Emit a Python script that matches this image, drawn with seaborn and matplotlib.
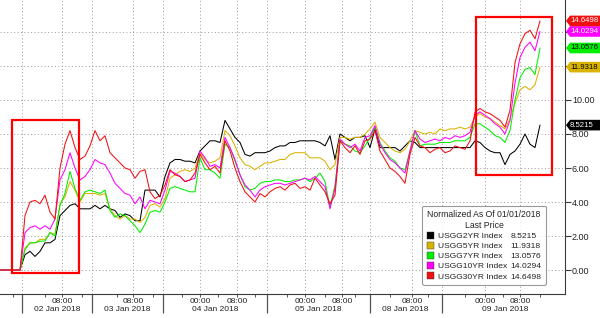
import numpy as np
import pandas as pd
import matplotlib
matplotlib.use("Agg")
import matplotlib.pyplot as plt
import seaborn as sns
from matplotlib.patches import Polygon, Patch, Rectangle
from matplotlib.transforms import IdentityTransform

# ---------------- data ----------------
# sample positions along the compressed (trading-session) time axis
sample_pos = list(range(0, 545, 5))

usgg2 = [0, 0, 0, 0, 0, 0.9, 1.1, 0.8, 1.1, 1.6,
         1.6, 1.8, 3.2, 3.5, 3.8, 3.9, 3.6, 3.6, 3.6, 3.8,
         3.6, 3.8, 3.6, 3.5, 3.1, 3.3, 3.2, 2.9, 2.9, 4.7,
         4.7, 4.7, 4.3, 5.5, 6.3, 6.5, 6.5, 6.4, 6.4, 6.3,
         7.0, 7.3, 7.6, 7.6, 7.5, 8.8, 8.3, 7.8, 7.5, 6.8,
         6.7, 6.9, 6.9, 6.9, 7.0, 7.2, 7.3, 7.3, 7.5, 7.5,
         7.6, 7.6, 7.6, 7.6, 7.5, 7.3, 7.9, 6.5, 8.0, 7.8,
         7.6, 7.8, 7.8, 7.9, 7.2, 8.3, 7.2, 7.2, 7.2, 7.2,
         7.0, 7.3, 7.6, 7.5, 7.2, 7.2, 7.2, 7.2, 7.2, 7.2,
         7.2, 7.2, 7.2, 7.2, 7.2, 7.6, 7.5, 7.2, 7.0, 6.9,
         6.9, 6.2, 6.8, 7.0, 7.4, 8.0, 7.4, 7.2, 8.5215]

usgg5 = [0, 0, 0, 0, 0, 1.3, 1.6, 1.6, 1.8, 1.8,
         2.2, 2.1, 3.9, 4.3, 5.2, 4.7, 4.0, 4.5, 4.5, 4.5,
         4.4, 4.5, 3.6, 3.2, 3.0, 3.2, 3.0, 3.0, 2.8, 3.1,
         3.8, 3.9, 3.7, 4.2, 5.4, 5.6, 5.8, 5.9, 5.8, 6.0,
         6.9, 6.5, 6.3, 6.4, 6.6, 8.2, 7.9, 7.3, 6.6, 6.2,
         6.1, 5.9, 6.1, 6.3, 6.3, 6.4, 6.5, 6.5, 6.8, 6.9,
         6.9, 6.9, 6.6, 6.6, 6.6, 6.4, 5.9, 6.2, 7.8, 7.8,
         7.7, 7.8, 7.8, 8.0, 8.3, 8.7, 7.8, 7.5, 7.2, 7.0,
         6.9, 7.1, 7.6, 8.2, 8.1, 8.0, 8.1, 8.0, 8.3, 8.2,
         8.3, 8.3, 8.4, 8.3, 8.4, 9.0, 9.2, 9.0, 8.9, 8.7,
         8.5, 8.3, 8.9, 9.8, 10.6, 10.8, 10.6, 10.9, 11.9318]

usgg7 = [0, 0, 0, 0, 0, 1.2, 1.6, 1.6, 1.7, 1.7,
         2.2, 2.0, 3.8, 4.5, 5.8, 4.8, 4.1, 4.6, 4.7, 4.6,
         4.5, 4.7, 3.5, 3.1, 3.3, 3.2, 2.9, 2.6, 2.2, 2.7,
         3.4, 3.5, 3.4, 4.0, 4.8, 4.9, 4.8, 4.7, 4.6, 4.6,
         6.6, 5.9, 5.9, 5.7, 5.4, 7.4, 7.2, 6.4, 5.6, 4.9,
         4.7, 4.8, 5.1, 5.2, 5.2, 5.3, 5.3, 5.2, 5.2, 5.3,
         5.3, 5.4, 5.2, 5.4, 5.7, 5.2, 3.7, 5.0, 7.6, 7.4,
         7.3, 7.0, 6.9, 7.3, 7.8, 8.4, 7.5, 7.0, 6.6, 6.4,
         6.0, 5.9, 7.0, 8.2, 7.3, 7.4, 7.4, 7.4, 7.5, 7.5,
         7.5, 7.6, 7.6, 7.6, 7.8, 8.6, 8.6, 8.4, 8.2, 7.9,
         7.8, 7.5, 8.2, 10.0, 11.3, 11.8, 11.9, 11.5, 13.0576]

usgg10 = [0, 0, 0, 0, 0, 2.2, 2.5, 2.6, 2.4, 2.6,
          2.4, 3.0, 5.3, 5.9, 6.9, 6.0, 5.3, 5.5, 5.9, 6.5,
          6.3, 6.2, 5.7, 5.1, 4.8, 4.5, 4.4, 3.9, 4.3, 3.6,
          4.1, 4.0, 3.9, 4.7, 5.8, 5.7, 5.5, 5.2, 5.3, 5.4,
          7.0, 6.6, 6.1, 6.2, 6.0, 7.8, 7.2, 6.5, 5.6, 5.0,
          4.7, 4.3, 4.7, 4.9, 5.0, 5.1, 5.1, 5.0, 5.1, 5.2,
          5.3, 5.4, 5.3, 5.5, 5.2, 4.9, 3.6, 4.8, 7.7, 7.4,
          7.2, 7.4, 7.0, 7.8, 7.9, 8.5, 7.4, 6.9, 6.5, 6.3,
          6.0, 5.7, 7.0, 8.2, 7.7, 7.5, 7.6, 7.7, 7.6, 7.8,
          7.7, 7.9, 7.8, 7.9, 8.1, 9.1, 9.3, 9.1, 8.9, 8.6,
          8.4, 8.0, 8.8, 11.0, 12.5, 13.1, 13.4, 12.9, 14.0294]

usgg30 = [0, 0, 0, 0, 0, 3.2, 4.0, 4.1, 3.9, 4.4,
          3.4, 3.0, 6.0, 7.4, 8.2, 7.2, 6.5, 6.7, 7.3, 8.2,
          7.6, 7.9, 6.9, 6.6, 6.3, 6.0, 5.9, 5.4, 5.8, 5.9,
          4.6, 4.2, 4.4, 5.0, 5.9, 5.6, 5.5, 5.2, 5.3, 5.7,
          6.8, 6.3, 5.9, 6.1, 5.7, 7.6, 7.0, 6.0, 5.2, 4.6,
          4.3, 4.0, 4.5, 4.3, 4.6, 4.8, 4.9, 4.7, 5.0, 5.1,
          4.8, 4.9, 4.7, 5.4, 5.0, 4.6, 3.9, 4.4, 7.6, 7.2,
          6.9, 7.3, 6.8, 7.6, 7.7, 8.2, 7.0, 6.5, 6.0, 5.8,
          5.5, 5.1, 6.8, 7.8, 7.3, 7.2, 6.9, 7.1, 7.2, 6.9,
          7.0, 7.3, 7.2, 7.1, 7.6, 9.3, 9.5, 9.3, 9.2, 9.0,
          8.8, 8.4, 9.4, 12.2, 13.3, 13.9, 14.1, 13.6, 14.6498]

series_names = ["USGG2YR Index", "USGG5YR Index", "USGG7YR Index",
                "USGG10YR Index", "USGG30YR Index"]
last_prices = ["8.5215", "11.9318", "13.0576", "14.0294", "14.6498"]
series_colors = ["#000000", "#D9B300", "#00EE00", "#FF00FF", "#F01010"]
tag_text_colors = ["white", "black", "black", "white", "white"]

# x-axis time ticks
day_bounds = [22, 92, 163, 267, 370, 442]
hour_ticks = [62, 133, 200, 237, 305, 342, 412, 485, 520]
hour_labels = ["08:00", "08:00", "00:00", "08:00", "00:00", "08:00",
               "08:00", "00:00", "08:00"]
small_ticks = [13, 45, 82, 117, 153, 182, 218, 255, 287, 325, 355, 390,
               428, 465, 503, 540]
day_centers = [57, 127, 215, 318, 405, 505]
day_labels = ["02 Jan 2018", "03 Jan 2018", "04 Jan 2018",
              "05 Jan 2018", "08 Jan 2018", "09 Jan 2018"]

y_ticks = [0, 2, 4, 6, 8, 10, 12, 14]

# highlight boxes: (x0, x1, y0, y1)
highlight_boxes = [(12, 79, -0.18, 8.8), (476, 552, 5.6, 14.9)]

# ---------------- build frame ----------------
all_vals = [usgg2, usgg5, usgg7, usgg10, usgg30]
df = pd.concat([pd.DataFrame({"pos": sample_pos, "value": v, "series": n})
                for n, v in zip(series_names, all_vals)], ignore_index=True)

sns.set_theme(style="white")
plt.rcParams["font.family"] = ["Liberation Sans", "DejaVu Sans"]

fig = plt.figure(figsize=(6.0, 3.18), dpi=100)
ax = fig.add_axes([0, 24 / 318, 565 / 600, 294 / 318])

sns.lineplot(data=df, x="pos", y="value", hue="series", hue_order=series_names,
             palette=series_colors, legend=False, linewidth=0.75, ax=ax,
             estimator=None, sort=False)

ax.set_xlim(0, 565)
ax.set_ylim(-1.41, 15.88)
ax.set_xlabel("")
ax.set_ylabel("")

# spines
for s in ["left", "top"]:
    ax.spines[s].set_visible(False)
for s in ["right", "bottom"]:
    ax.spines[s].set_visible(True)
    ax.spines[s].set_color("#3a3a3a")
    ax.spines[s].set_linewidth(0.8)

# y axis on the right
ax.yaxis.tick_right()
ax.set_yticks(y_ticks)
ax.set_yticklabels([f"{v:.2f}" if v <= 10 else "" for v in y_ticks])
ax.tick_params(axis="y", which="major", length=4, width=0.8, color="#3a3a3a",
               labelsize=6.5, labelcolor="#222222", pad=1, right=True, left=False)

# x axis
ax.set_xticks(day_bounds)
ax.set_xticklabels([""] * len(day_bounds))
ax.tick_params(axis="x", which="major", length=14, width=0.9, color="#555555",
               bottom=True)
minor_pos = hour_ticks + small_ticks
minor_lab = hour_labels + [""] * len(small_ticks)
ax.set_xticks(minor_pos, minor=True)
ax.set_xticklabels(minor_lab, minor=True)
ax.tick_params(axis="x", which="minor", length=2.5, width=0.7, color="#555555",
               labelsize=6, labelcolor="#222222", pad=0.5, bottom=True)

sec = ax.secondary_xaxis("bottom")
sec.set_xticks(day_centers)
sec.set_xticklabels(day_labels)
sec.tick_params(length=0, pad=8.5, labelsize=6, labelcolor="#222222")
sec.spines["bottom"].set_visible(False)

# grid
grid_kw = dict(color="#9a9a9a", linestyle=(0, (1, 2.5)), linewidth=0.7, zorder=0)
for v in y_ticks:
    ax.axhline(v, **grid_kw)
for p in day_bounds + hour_ticks:
    ax.axvline(p, **grid_kw)

# highlight rectangles
for (x0, x1, y0, y1) in highlight_boxes:
    ax.add_patch(Rectangle((x0, y0), x1 - x0, y1 - y0, fill=False,
                           edgecolor="#FF0000", linewidth=1.6, zorder=5))

# legend
handles = [Patch(facecolor=c, edgecolor="#333333", linewidth=0.3) for c in series_colors]
handles += [Patch(facecolor="none", edgecolor="none") for _ in series_colors]
labels = series_names + last_prices
leg = ax.legend(handles, labels, ncol=2, loc="lower left",
                bbox_to_anchor=(0.747, 0.03),
                title="Normalized As Of 01/01/2018\nLast Price",
                fontsize=6.1, title_fontsize=6.2, frameon=True, fancybox=True,
                handlelength=0.9, handleheight=0.9, handletextpad=0.4,
                columnspacing=-0.9, labelspacing=0.2, borderpad=0.55,
                borderaxespad=0)
leg.get_frame().set_edgecolor("#808080")
leg.get_frame().set_linewidth(0.8)
leg.get_title().set_color("#222222")
leg.get_title().set_multialignment("center")
for t in leg.get_texts():
    t.set_color("#222222")
leg.set_zorder(10)

# value tags at the right edge
fig.canvas.draw()
x_axis_right = ax.transAxes.transform((1, 0))[0]
for val, col, tcol in zip(last_prices, series_colors, tag_text_colors):
    ypix = ax.transData.transform((0, float(val)))[1]
    x0 = x_axis_right + 1
    poly = Polygon([(x0, ypix), (x0 + 4, ypix + 5.3), (600, ypix + 5.3),
                    (600, ypix - 5.3), (x0 + 4, ypix - 5.3)], closed=True,
                   facecolor=col, edgecolor="none", transform=IdentityTransform(),
                   clip_on=False, zorder=20)
    fig.patches.append(poly)
    fig.text(x0 + 4, ypix, val, transform=IdentityTransform(), fontsize=5.6,
             color=tcol, ha="left", va="center", zorder=21)

fig.savefig("out.png", dpi=100)
